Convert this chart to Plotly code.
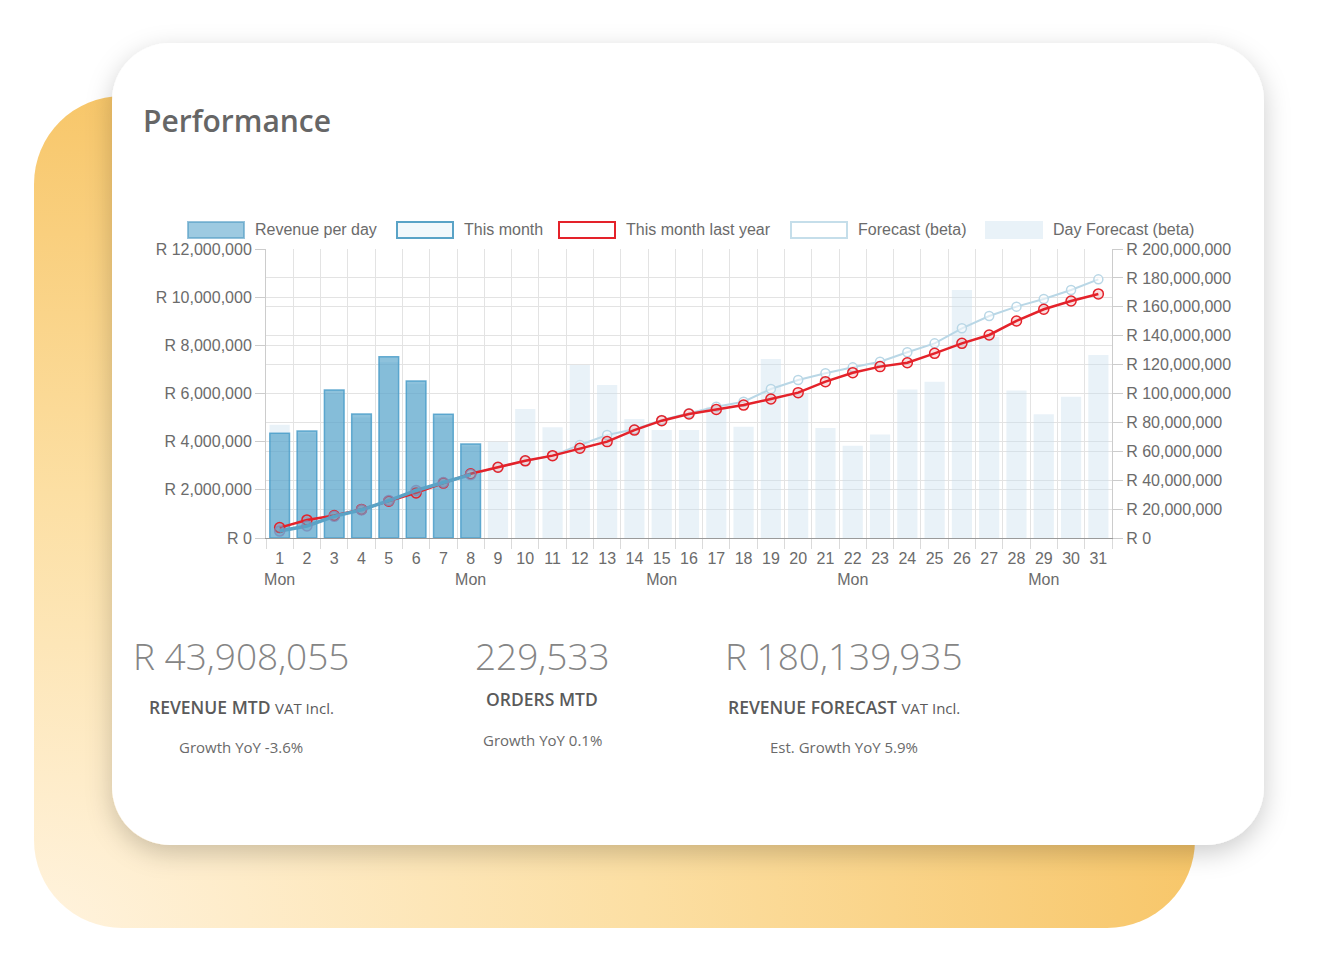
import base64
import plotly.graph_objects as go

# ---- data ----
days = list(range(1, 32))
mon_days = [1, 8, 15, 22, 29]

revenue_days = days[:8]
revenue_per_day = [4350000, 4440000, 6150000, 5150000, 7530000, 6520000, 5140000, 3900000]

day_forecast = [4700000, 4350000, 6000000, 5000000, 7300000, 6400000, 5000000, 3800000,
                4000000, 5360000, 4600000, 7180000, 6350000, 4940000, 4480000, 4480000,
                5450000, 4620000, 7430000, 6000000, 4570000, 3830000, 4300000, 6170000,
                6490000, 10300000, 8360000, 6120000, 5140000, 5870000, 7600000]

this_month = [4800000, 8300000, 15000000, 19500000, 25900000, 32900000, 38400000, 43900000]

last_year = [7200000, 12500000, 15600000, 19800000, 25500000, 31200000, 38000000, 44500000,
             49000000, 53400000, 57000000, 62100000, 66700000, 74700000, 81200000, 85800000,
             89000000, 92000000, 96200000, 100600000, 108200000, 114400000, 118600000, 121300000,
             127800000, 134700000, 140500000, 150200000, 158300000, 164000000, 168900000]

forecast_days = days[7:]
forecast = [43900000, 49000000, 53400000, 57000000, 64400000, 71300000, 75200000, 81700000,
            86300000, 90900000, 94300000, 103100000, 109300000, 114000000, 118100000, 122000000,
            128500000, 134700000, 145100000, 153600000, 160100000, 165400000, 171600000, 179000000]

x_labels = [f"{d}<br>Mon" if d in mon_days else str(d) for d in days]

# ---- page geometry (pixels) ----
W, H = 1324, 954
L, R, T, B = 266, 212, 249, 416
PW, PH = W - L - R, H - T - B


def px(x):
    return (x - L) / PW


def py(y):
    return (H - B - y) / PH


# background: orange blob + white card with shadow
svg = f'''<svg xmlns="http://www.w3.org/2000/svg" width="{W}" height="{H}" viewBox="0 0 {W} {H}">
<defs>
<radialGradient id="og" cx="0" cy="1" r="1.05" gradientUnits="objectBoundingBox">
<stop offset="0" stop-color="#FFF3DE"/>
<stop offset="0.5" stop-color="#FCDFA3"/>
<stop offset="1" stop-color="#F7C464"/>
</radialGradient>
<filter id="sh" x="-10%" y="-10%" width="120%" height="130%">
<feDropShadow dx="0" dy="8" stdDeviation="13" flood-color="#000" flood-opacity="0.2"/>
</filter>
</defs>
<rect x="34" y="96" width="1161" height="832" rx="88" fill="url(#og)"/>
<rect x="112" y="43" width="1152" height="802" rx="58" fill="#ffffff" filter="url(#sh)"/>
</svg>'''
svg_uri = "data:image/svg+xml;base64," + base64.b64encode(svg.encode()).decode()

fig = go.Figure()

fig.add_trace(go.Bar(
    x=days, y=day_forecast, name="Day Forecast (beta)", width=0.74,
    marker=dict(color="rgba(200,222,238,0.4)", line=dict(width=0)),
))
fig.add_trace(go.Bar(
    x=revenue_days, y=revenue_per_day, name="Revenue per day", width=0.72,
    marker=dict(color="rgba(60,150,195,0.58)", line=dict(color="rgba(70,155,200,0.8)", width=1.5)),
))
fig.add_trace(go.Scatter(
    x=forecast_days, y=forecast, name="Forecast (beta)", yaxis="y2", mode="lines+markers",
    line=dict(color="#B9D7E6", width=2),
    marker=dict(size=9, color="rgba(255,255,255,0.5)", line=dict(color="#B9D7E6", width=1.5)),
))
fig.add_trace(go.Scatter(
    x=days, y=last_year, name="This month last year", yaxis="y2", mode="lines+markers",
    line=dict(color="#E4222A", width=2.5),
    marker=dict(size=10, color="rgba(228,34,42,0.15)", line=dict(color="#E4222A", width=1.5)),
))
fig.add_trace(go.Scatter(
    x=revenue_days, y=this_month, name="This month", yaxis="y2", mode="lines+markers",
    line=dict(color="#5AA3C6", width=3.5),
    marker=dict(size=10, color="rgba(90,163,198,0.35)", line=dict(color="rgba(125,140,185,0.8)", width=1.5)),
))

axis_font = dict(family="Liberation Sans, Arial, sans-serif", size=16, color="#6b6b6b")

fig.update_layout(
    width=W, height=H,
    margin=dict(l=L, r=R, t=T, b=B, pad=0),
    paper_bgcolor="#ffffff",
    plot_bgcolor="rgba(0,0,0,0)",
    barmode="overlay",
    showlegend=False,
    font=axis_font,
    xaxis=dict(
        range=[0.5, 31.5], tickmode="array", tickvals=days, ticktext=x_labels,
        showgrid=False, zeroline=False, ticks="outside", ticklen=6,
        tickcolor="rgba(0,0,0,0)", showline=True, linecolor="#9a9a9a", linewidth=1,
        tickfont=axis_font, automargin=False,
        minor=dict(tickmode="array", tickvals=[d - 0.5 for d in days] + [31.5],
                   showgrid=True, gridcolor="#e3e3e3", gridwidth=1,
                   ticks="outside", ticklen=10, tickcolor="#dadada"),
    ),
    yaxis=dict(
        range=[0, 12000000], tick0=0, dtick=2000000, tickprefix="R ", tickformat=",.0f",
        showgrid=True, gridcolor="#e3e3e3", zeroline=False, showline=True,
        linecolor="#cccccc", ticks="outside", ticklen=10, tickcolor="#cccccc",
        tickfont=axis_font, automargin=False,
    ),
    yaxis2=dict(
        range=[0, 200000000], tick0=0, dtick=20000000, tickprefix="R ", tickformat=",.0f",
        overlaying="y", side="right", showgrid=True, gridcolor="#e3e3e3", zeroline=False,
        showline=True, linecolor="#cccccc", ticks="outside", ticklen=10, tickcolor="#cccccc",
        tickfont=axis_font, automargin=False,
    ),
    images=[dict(source=svg_uri, xref="paper", yref="paper", x=px(0), y=py(0),
                 sizex=W / PW, sizey=H / PH, xanchor="left", yanchor="top",
                 sizing="stretch", layer="below")],
)

# legend drawn chart.js style: wide boxes followed by labels
legend_items = [
    ("Revenue per day", 188, "rgba(60,150,195,0.5)", "rgba(80,155,195,0.6)"),
    ("This month", 397, "rgba(90,163,198,0.08)", "#5AA3C6"),
    ("This month last year", 559, "#ffffff", "#E4222A"),
    ("Forecast (beta)", 791, "#ffffff", "#C5DEEA"),
    ("Day Forecast (beta)", 986, "#E9F2F8", "#E9F2F8"),
]
for label, x0, fill, edge in legend_items:
    fig.add_shape(type="rect", xref="paper", yref="paper",
                  x0=px(x0), x1=px(x0 + 56), y0=py(238), y1=py(222),
                  fillcolor=fill, line=dict(color=edge, width=2))
    fig.add_annotation(xref="paper", yref="paper", x=px(x0 + 65), y=py(229.5),
                       text=label, showarrow=False, xanchor="left", yanchor="middle",
                       font=axis_font)

card_font = "Open Sans, Noto Sans, sans-serif"
fig.add_annotation(xref="paper", yref="paper", x=px(141), y=py(120), text="Performance",
                   showarrow=False, xanchor="left", yanchor="middle",
                   font=dict(family=card_font, size=30, color="#666", weight=600))

stats = [
    (241, "R 43,908,055", "REVENUE MTD <span style='font-weight:400;font-size:15px'>VAT Incl.</span>",
     707, "Growth YoY -3.6%", 747),
    (542, "229,533", "ORDERS MTD", 699, "Growth YoY 0.1%", 740),
    (844, "R 180,139,935", "REVENUE FORECAST <span style='font-weight:400;font-size:15px'>VAT Incl.</span>",
     707, "Est. Growth YoY 5.9%", 747),
]
for cx, value, title, ty, growth, gy in stats:
    fig.add_annotation(xref="paper", yref="paper", x=px(cx), y=py(655), text=value,
                       showarrow=False, xanchor="center", yanchor="middle",
                       font=dict(family=card_font, size=37, color="#858585", weight=300))
    fig.add_annotation(xref="paper", yref="paper", x=px(cx), y=py(ty), text=title,
                       showarrow=False, xanchor="center", yanchor="middle",
                       font=dict(family=card_font, size=17.5, color="#5a5a5a", weight=600))
    fig.add_annotation(xref="paper", yref="paper", x=px(cx), y=py(gy), text=growth,
                       showarrow=False, xanchor="center", yanchor="middle",
                       font=dict(family=card_font, size=15, color="#6a6a6a"))

fig.write_html("out.html", config={"displayModeBar": False},
               post_script="document.body.style.margin='0';")
